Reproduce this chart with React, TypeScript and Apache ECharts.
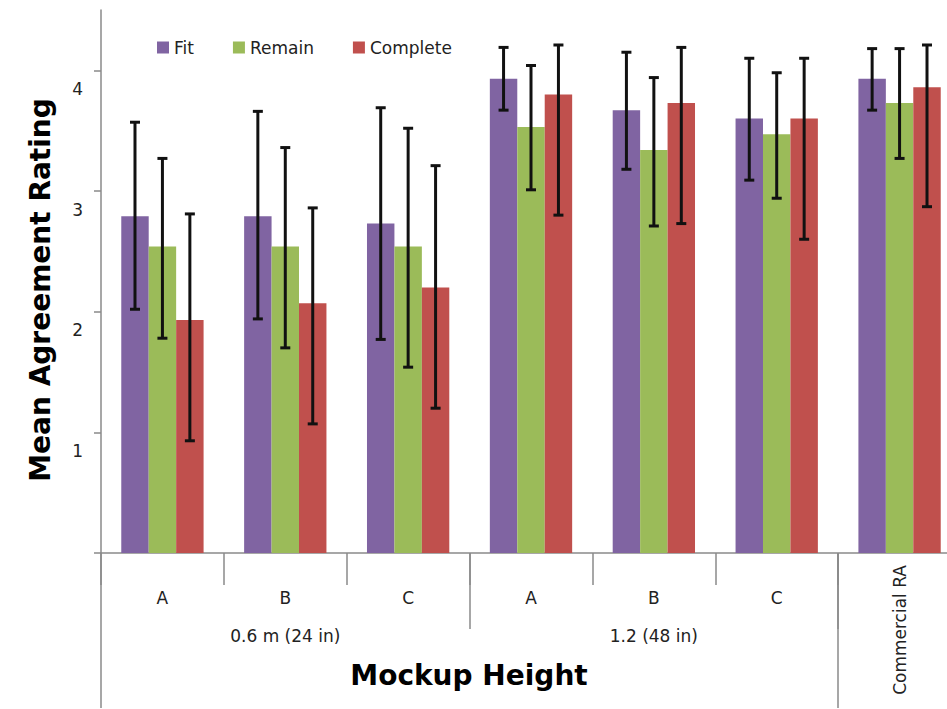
import React, { useEffect, useRef } from "react";
import * as echarts from "echarts";

const categories = ["A", "B", "C", "A", "B", "C", "Commercial RA"];
const groupLabels = ["", "0.6 m (24 in)", "", "", "1.2 (48 in)", "", ""];
const seriesNames = ["Fit", "Remain", "Complete"];
const fit = [2.79, 2.79, 2.73, 3.93, 3.67, 3.6, 3.93];
const fitLow = [2.02, 1.94, 1.77, 3.67, 3.18, 3.09, 3.67];
const fitHigh = [3.57, 3.66, 3.69, 4.19, 4.15, 4.1, 4.18];
const remain = [2.54, 2.54, 2.54, 3.53, 3.34, 3.47, 3.73];
const remainLow = [1.78, 1.7, 1.54, 3.01, 2.71, 2.94, 3.27];
const remainHigh = [3.27, 3.36, 3.52, 4.04, 3.94, 3.98, 4.18];
const complete = [1.93, 2.07, 2.2, 3.8, 3.73, 3.6, 3.86];
const completeLow = [0.93, 1.07, 1.2, 2.8, 2.73, 2.6, 2.87];
const completeHigh = [2.81, 2.86, 3.21, 4.21, 4.19, 4.1, 4.21];
const yTicks = [0, 1, 2, 3, 4];
const yLabels = [1, 2, 3, 4];

const colors = ["#8064A2", "#9BBB59", "#C0504D"];
const FONT = "DejaVu Sans";
const GAP = 0.33;

export default function App() {
  const ref = useRef<HTMLDivElement>(null);
  useEffect(() => {
    if (!ref.current) return;
    const chart = echarts.init(ref.current, null, { renderer: "svg" });
    const values = [fit, remain, complete];
    const lows = [fitLow, remainLow, completeLow];
    const highs = [fitHigh, remainHigh, completeHigh];
    const nSeries = values.length;

    const barSeries = values.map((vals, k) => ({
      name: seriesNames[k],
      type: "bar",
      xAxisIndex: 0,
      yAxisIndex: 0,
      data: vals,
      barGap: "0%",
      barCategoryGap: GAP * 100 + "%",
      itemStyle: { color: colors[k] },
      z: 2,
    }));

    const errSeries = values.map((vals, k) => ({
      type: "custom",
      name: seriesNames[k] + " error",
      xAxisIndex: 0,
      yAxisIndex: 0,
      z: 5,
      silent: true,
      encode: { x: 0, y: [1, 2] },
      data: vals.map((_, i) => [i, lows[k][i], highs[k][i]]),
      renderItem: (params: any, api: any) => {
        const cat = api.value(0);
        const lo = api.value(1);
        const hi = api.value(2);
        const band = api.size([1, 0])[0];
        const barW = (band * (1 - GAP)) / nSeries;
        const x = api.coord([cat, 0])[0] + (k - (nSeries - 1) / 2) * barW;
        const yHi = api.coord([cat, hi])[1];
        const yLo = api.coord([cat, lo])[1];
        const cap = 5;
        const style = { stroke: "#111", lineWidth: 3 };
        return {
          type: "group",
          children: [
            { type: "line", shape: { x1: x, y1: yHi, x2: x, y2: yLo }, style },
            { type: "line", shape: { x1: x - cap, y1: yHi, x2: x + cap, y2: yHi }, style },
            { type: "line", shape: { x1: x - cap, y1: yLo, x2: x + cap, y2: yLo }, style },
          ],
        };
      },
    }));

    const axisColor = "#8a8a8a";
    const option: any = {
      animation: false,
      backgroundColor: "#ffffff",
      grid: { left: 101, top: 10, right: 0, bottom: 156, containLabel: false },
      legend: {
        data: seriesNames,
        left: 152,
        top: 34,
        icon: "rect",
        itemWidth: 12,
        itemHeight: 12,
        itemGap: 39,
        textStyle: { fontFamily: FONT, fontSize: 17, color: "#222" },
      },
      xAxis: [
        {
          type: "category",
          data: categories,
          position: "bottom",
          axisLine: { show: true, lineStyle: { color: axisColor, width: 1.5 } },
          axisTick: { show: true, interval: 0, length: 32, alignWithLabel: false, lineStyle: { color: axisColor, width: 1.5 } },
          axisLabel: {
            interval: 0,
            margin: 36,
            fontFamily: FONT,
            fontSize: 17,
            color: "#222",
            formatter: (v: string, i: number) => (i === categories.length - 1 ? "" : v),
          },
        },
        {
          type: "category",
          data: categories,
          position: "bottom",
          axisLine: { show: false },
          axisTick: {
            show: true,
            interval: (i: number) => i === 3 || i === 6,
            length: 76,
            lineStyle: { color: axisColor, width: 1.5 },
          },
          axisLabel: {
            interval: 0,
            margin: 74,
            fontFamily: FONT,
            fontSize: 17,
            color: "#222",
            formatter: (_v: string, i: number) => groupLabels[i],
          },
        },
        {
          type: "category",
          data: categories,
          position: "bottom",
          axisLine: { show: false },
          axisTick: {
            show: true,
            interval: (i: number) => i === 0 || i === 6,
            length: 155,
            lineStyle: { color: axisColor, width: 1.5 },
          },
          axisLabel: {
            interval: 0,
            margin: 12,
            rotate: 90,
            fontFamily: FONT,
            fontSize: 17,
            color: "#222",
            formatter: (v: string, i: number) => (i === categories.length - 1 ? v : ""),
          },
        },
      ],
      yAxis: {
        type: "value",
        min: 0,
        max: 4.5,
        interval: 1,
        splitLine: { show: false },
        axisLine: { show: true, lineStyle: { color: axisColor, width: 1.5 } },
        axisTick: { show: true, length: 7, customValues: yTicks, lineStyle: { color: axisColor, width: 1.5 } },
        axisLabel: {
          customValues: yLabels,
          margin: 18,
          fontFamily: FONT,
          fontSize: 17,
          color: "#222",
          verticalAlign: "top",
          padding: [10, 0, 0, 0],
        },
      },
      graphic: [
        {
          type: "text",
          x: 40,
          y: 290,
          rotation: Math.PI / 2,
          style: {
            text: "Mean Agreement Rating",
            font: `bold 28px "${FONT}"`,
            fill: "#000",
            textAlign: "center",
            textVerticalAlign: "middle",
          },
        },
        {
          type: "text",
          x: 469,
          y: 675,
          style: {
            text: "Mockup Height",
            font: `bold 28px "${FONT}"`,
            fill: "#000",
            textAlign: "center",
            textVerticalAlign: "middle",
          },
        },
      ],
      series: [...barSeries, ...errSeries],
    };
    chart.setOption(option);
    return () => chart.dispose();
  }, []);
  return (
    <div
      style={{ position: "fixed", left: 0, top: 0, width: 947, height: 709, overflow: "hidden", background: "#fff" }}
    >
      <div ref={ref} style={{ width: 961, height: 709 }} />
    </div>
  );
}
